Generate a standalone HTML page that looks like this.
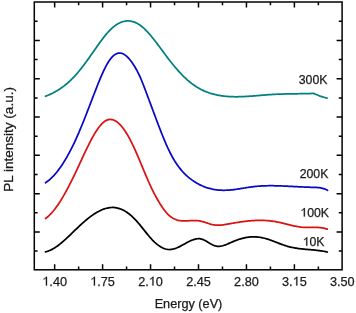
<!DOCTYPE html>
<html><head><meta charset="utf-8"><style>
html,body{margin:0;padding:0;background:#fff;}
svg{display:block;will-change:transform;filter:blur(0.3px);}
.s{font-size:12.3px !important;}
.t{font-family:"Liberation Sans",sans-serif;font-size:12.7px;fill:#1a1a1a;stroke:#1a1a1a;stroke-width:0.25px;}
</style></head><body>
<svg width="356" height="313" viewBox="0 0 356 313" xmlns="http://www.w3.org/2000/svg">
<defs><path id="one" d="M583,0 L763,0 L763,1409 L646,1409 Q570,1310 440,1215 Q330,1140 223,1098 L223,930 Q330,975 420,1030 Q520,1090 583,1150 Z"/></defs>
<rect x="34.3" y="2.0" width="307.8" height="267.8" fill="none" stroke="#000" stroke-width="1.5"/>
<path d="M54.65,269.8V264.30M54.65,2.0V7.50M78.62,269.8V266.50M78.62,2.0V5.30M102.60,269.8V264.30M102.60,2.0V7.50M126.57,269.8V266.50M126.57,2.0V5.30M150.55,269.8V264.30M150.55,2.0V7.50M174.53,269.8V266.50M174.53,2.0V5.30M198.50,269.8V264.30M198.50,2.0V7.50M222.48,269.8V266.50M222.48,2.0V5.30M246.45,269.8V264.30M246.45,2.0V7.50M270.42,269.8V266.50M270.42,2.0V5.30M294.40,269.8V264.30M294.40,2.0V7.50M318.37,269.8V266.50M318.37,2.0V5.30M34.3,21.30H37.60M342.1,21.30H338.80M34.3,40.45H39.80M342.1,40.45H336.60M34.3,59.60H37.60M342.1,59.60H338.80M34.3,78.75H39.80M342.1,78.75H336.60M34.3,97.90H37.60M342.1,97.90H338.80M34.3,117.05H39.80M342.1,117.05H336.60M34.3,136.20H37.60M342.1,136.20H338.80M34.3,155.35H39.80M342.1,155.35H336.60M34.3,174.50H37.60M342.1,174.50H338.80M34.3,193.65H39.80M342.1,193.65H336.60M34.3,212.80H37.60M342.1,212.80H338.80M34.3,231.95H39.80M342.1,231.95H336.60M34.3,251.10H37.60M342.1,251.10H338.80" fill="none" stroke="#000" stroke-width="1.5"/>
<path d="M45.50,96.28 L46.50,95.88 L47.50,95.47 L48.50,95.05 L49.50,94.61 L50.50,94.15 L51.50,93.67 L52.50,93.18 L53.50,92.66 L54.50,92.13 L55.50,91.58 L56.50,91.00 L57.50,90.41 L58.50,89.79 L59.50,89.15 L60.50,88.49 L61.50,87.80 L62.50,87.09 L63.50,86.35 L64.50,85.58 L65.50,84.79 L66.50,83.97 L67.50,83.13 L68.50,82.25 L69.50,81.35 L70.50,80.41 L71.50,79.45 L72.50,78.45 L73.50,77.42 L74.50,76.36 L75.50,75.27 L76.50,74.14 L77.50,72.98 L78.50,71.79 L79.50,70.57 L80.50,69.33 L81.50,68.06 L82.50,66.77 L83.50,65.45 L84.50,64.12 L85.50,62.76 L86.50,61.40 L87.50,60.01 L88.50,58.62 L89.50,57.21 L90.50,55.80 L91.50,54.37 L92.50,52.95 L93.50,51.51 L94.50,50.08 L95.50,48.65 L96.50,47.22 L97.50,45.80 L98.50,44.39 L99.50,42.99 L100.50,41.61 L101.50,40.26 L102.50,38.92 L103.50,37.62 L104.50,36.35 L105.50,35.11 L106.50,33.91 L107.50,32.75 L108.50,31.64 L109.50,30.58 L110.50,29.57 L111.50,28.61 L112.50,27.71 L113.50,26.87 L114.50,26.08 L115.50,25.34 L116.50,24.67 L117.50,24.04 L118.50,23.48 L119.50,22.97 L120.50,22.52 L121.50,22.12 L122.50,21.78 L123.50,21.50 L124.50,21.27 L125.50,21.10 L126.50,20.99 L127.50,20.94 L128.50,20.94 L129.50,21.00 L130.50,21.12 L131.50,21.30 L132.50,21.53 L133.50,21.83 L134.50,22.18 L135.50,22.59 L136.50,23.06 L137.50,23.58 L138.50,24.17 L139.50,24.81 L140.50,25.52 L141.50,26.28 L142.50,27.10 L143.50,27.96 L144.50,28.88 L145.50,29.85 L146.50,30.86 L147.50,31.91 L148.50,33.00 L149.50,34.12 L150.50,35.28 L151.50,36.47 L152.50,37.69 L153.50,38.94 L154.50,40.20 L155.50,41.49 L156.50,42.80 L157.50,44.12 L158.50,45.46 L159.50,46.80 L160.50,48.15 L161.50,49.51 L162.50,50.87 L163.50,52.23 L164.50,53.59 L165.50,54.94 L166.50,56.28 L167.50,57.61 L168.50,58.93 L169.50,60.23 L170.50,61.51 L171.50,62.77 L172.50,64.02 L173.50,65.24 L174.50,66.45 L175.50,67.63 L176.50,68.79 L177.50,69.93 L178.50,71.05 L179.50,72.15 L180.50,73.22 L181.50,74.27 L182.50,75.29 L183.50,76.29 L184.50,77.27 L185.50,78.22 L186.50,79.14 L187.50,80.04 L188.50,80.90 L189.50,81.74 L190.50,82.56 L191.50,83.34 L192.50,84.10 L193.50,84.82 L194.50,85.52 L195.50,86.19 L196.50,86.84 L197.50,87.45 L198.50,88.04 L199.50,88.61 L200.50,89.15 L201.50,89.67 L202.50,90.16 L203.50,90.63 L204.50,91.08 L205.50,91.50 L206.50,91.91 L207.50,92.29 L208.50,92.65 L209.50,92.99 L210.50,93.32 L211.50,93.62 L212.50,93.91 L213.50,94.18 L214.50,94.43 L215.50,94.67 L216.50,94.89 L217.50,95.10 L218.50,95.29 L219.50,95.47 L220.50,95.63 L221.50,95.78 L222.50,95.92 L223.50,96.05 L224.50,96.16 L225.50,96.27 L226.50,96.36 L227.50,96.44 L228.50,96.52 L229.50,96.58 L230.50,96.63 L231.50,96.67 L232.50,96.71 L233.50,96.73 L234.50,96.75 L235.50,96.76 L236.50,96.76 L237.50,96.76 L238.50,96.74 L239.50,96.73 L240.50,96.70 L241.50,96.67 L242.50,96.63 L243.50,96.59 L244.50,96.54 L245.50,96.49 L246.50,96.43 L247.50,96.37 L248.50,96.30 L249.50,96.23 L250.50,96.16 L251.50,96.09 L252.50,96.01 L253.50,95.93 L254.50,95.85 L255.50,95.77 L256.50,95.68 L257.50,95.60 L258.50,95.51 L259.50,95.43 L260.50,95.34 L261.50,95.26 L262.50,95.18 L263.50,95.09 L264.50,95.01 L265.50,94.93 L266.50,94.85 L267.50,94.78 L268.50,94.71 L269.50,94.64 L270.50,94.57 L271.50,94.51 L272.50,94.45 L273.50,94.39 L274.50,94.34 L275.50,94.29 L276.50,94.25 L277.50,94.21 L278.50,94.17 L279.50,94.13 L280.50,94.10 L281.50,94.06 L282.50,94.03 L283.50,94.01 L284.50,93.98 L285.50,93.96 L286.50,93.94 L287.50,93.92 L288.50,93.90 L289.50,93.88 L290.50,93.86 L291.50,93.85 L292.50,93.83 L293.50,93.82 L294.50,93.80 L295.50,93.79 L296.50,93.77 L297.50,93.76 L298.50,93.75 L299.50,93.73 L300.50,93.72 L301.50,93.70 L302.50,93.69 L303.50,93.67 L304.50,93.65 L305.50,93.63 L306.50,93.61 L307.50,93.59 L308.50,93.56 L309.50,93.54 L310.50,93.51 L311.50,93.48 L312.50,93.45 L313.50,93.41 L315.7,94.3 L318,95.3 L320.2,96.2 L322.5,96.9 L324.7,97.5 L327,98.2" fill="none" stroke="#008080" stroke-width="1.75" stroke-linejoin="round" stroke-linecap="round"/>
<path d="M45.50,182.72 L46.50,182.05 L47.50,181.32 L48.50,180.55 L49.50,179.72 L50.50,178.84 L51.50,177.90 L52.50,176.92 L53.50,175.88 L54.50,174.79 L55.50,173.64 L56.50,172.45 L57.50,171.20 L58.50,169.91 L59.50,168.56 L60.50,167.16 L61.50,165.71 L62.50,164.20 L63.50,162.65 L64.50,161.05 L65.50,159.39 L66.50,157.69 L67.50,155.94 L68.50,154.13 L69.50,152.28 L70.50,150.37 L71.50,148.42 L72.50,146.42 L73.50,144.37 L74.50,142.26 L75.50,140.11 L76.50,137.91 L77.50,135.67 L78.50,133.37 L79.50,131.03 L80.50,128.65 L81.50,126.23 L82.50,123.78 L83.50,121.30 L84.50,118.78 L85.50,116.25 L86.50,113.70 L87.50,111.12 L88.50,108.54 L89.50,105.95 L90.50,103.35 L91.50,100.75 L92.50,98.14 L93.50,95.55 L94.50,92.96 L95.50,90.38 L96.50,87.82 L97.50,85.29 L98.50,82.79 L99.50,80.34 L100.50,77.94 L101.50,75.61 L102.50,73.34 L103.50,71.16 L104.50,69.07 L105.50,67.08 L106.50,65.19 L107.50,63.43 L108.50,61.79 L109.50,60.29 L110.50,58.92 L111.50,57.70 L112.50,56.62 L113.50,55.68 L114.50,54.88 L115.50,54.22 L116.50,53.70 L117.50,53.32 L118.50,53.09 L119.50,53.00 L120.50,53.05 L121.50,53.25 L122.50,53.58 L123.50,54.04 L124.50,54.63 L125.50,55.34 L126.50,56.17 L127.50,57.11 L128.50,58.15 L129.50,59.29 L130.50,60.52 L131.50,61.84 L132.50,63.25 L133.50,64.73 L134.50,66.30 L135.50,67.95 L136.50,69.70 L137.50,71.56 L138.50,73.54 L139.50,75.65 L140.50,77.90 L141.50,80.26 L142.50,82.73 L143.50,85.27 L144.50,87.88 L145.50,90.53 L146.50,93.20 L147.50,95.88 L148.50,98.56 L149.50,101.24 L150.50,103.92 L151.50,106.60 L152.50,109.28 L153.50,111.96 L154.50,114.63 L155.50,117.30 L156.50,119.96 L157.50,122.61 L158.50,125.24 L159.50,127.85 L160.50,130.43 L161.50,132.98 L162.50,135.49 L163.50,137.96 L164.50,140.37 L165.50,142.73 L166.50,145.03 L167.50,147.26 L168.50,149.41 L169.50,151.49 L170.50,153.49 L171.50,155.40 L172.50,157.22 L173.50,158.97 L174.50,160.64 L175.50,162.23 L176.50,163.75 L177.50,165.20 L178.50,166.59 L179.50,167.91 L180.50,169.16 L181.50,170.36 L182.50,171.50 L183.50,172.59 L184.50,173.63 L185.50,174.61 L186.50,175.55 L187.50,176.45 L188.50,177.31 L189.50,178.13 L190.50,178.91 L191.50,179.66 L192.50,180.38 L193.50,181.06 L194.50,181.72 L195.50,182.36 L196.50,182.96 L197.50,183.54 L198.50,184.08 L199.50,184.61 L200.50,185.10 L201.50,185.57 L202.50,186.02 L203.50,186.44 L204.50,186.83 L205.50,187.20 L206.50,187.55 L207.50,187.87 L208.50,188.18 L209.50,188.45 L210.50,188.71 L211.50,188.95 L212.50,189.16 L213.50,189.36 L214.50,189.53 L215.50,189.69 L216.50,189.82 L217.50,189.94 L218.50,190.04 L219.50,190.12 L220.50,190.18 L221.50,190.23 L222.50,190.26 L223.50,190.27 L224.50,190.27 L225.50,190.25 L226.50,190.22 L227.50,190.18 L228.50,190.12 L229.50,190.04 L230.50,189.96 L231.50,189.86 L232.50,189.76 L233.50,189.64 L234.50,189.52 L235.50,189.39 L236.50,189.25 L237.50,189.10 L238.50,188.95 L239.50,188.80 L240.50,188.64 L241.50,188.48 L242.50,188.32 L243.50,188.16 L244.50,187.99 L245.50,187.83 L246.50,187.67 L247.50,187.51 L248.50,187.36 L249.50,187.21 L250.50,187.06 L251.50,186.92 L252.50,186.79 L253.50,186.67 L254.50,186.55 L255.50,186.44 L256.50,186.34 L257.50,186.25 L258.50,186.17 L259.50,186.10 L260.50,186.03 L261.50,185.97 L262.50,185.92 L263.50,185.87 L264.50,185.83 L265.50,185.80 L266.50,185.77 L267.50,185.75 L268.50,185.74 L269.50,185.73 L270.50,185.73 L271.50,185.73 L272.50,185.73 L273.50,185.74 L274.50,185.76 L275.50,185.78 L276.50,185.80 L277.50,185.82 L278.50,185.85 L279.50,185.88 L280.50,185.92 L281.50,185.96 L282.50,186.00 L283.50,186.04 L284.50,186.08 L285.50,186.13 L286.50,186.17 L287.50,186.22 L288.50,186.27 L289.50,186.32 L290.50,186.37 L291.50,186.42 L292.50,186.47 L293.50,186.52 L294.50,186.57 L295.50,186.62 L296.50,186.67 L297.50,186.72 L298.50,186.77 L299.50,186.81 L300.50,186.86 L301.50,186.91 L302.50,186.95 L303.50,187.00 L304.50,187.04 L305.50,187.08 L306.50,187.13 L307.50,187.16 L308.50,187.20 L309.50,187.24 L310.50,187.27 L311.50,187.30 L312.50,187.33 L313.50,187.36 L314.50,187.38 L315.50,187.42 L316.50,187.46 L317.50,187.52 L318.50,187.61 L319.50,187.72 L320.50,187.87 L321.50,188.06 L322.50,188.29 L323.50,188.57 L324.50,188.91 L325.50,189.31 L326.50,189.78 L327.50,190.32 L327.60,190.38" fill="none" stroke="#0808c8" stroke-width="1.75" stroke-linejoin="round" stroke-linecap="round"/>
<path d="M45.50,218.53 L46.50,217.79 L47.50,216.99 L48.50,216.11 L49.50,215.17 L50.50,214.17 L51.50,213.10 L52.50,211.96 L53.50,210.77 L54.50,209.52 L55.50,208.21 L56.50,206.85 L57.50,205.43 L58.50,203.96 L59.50,202.44 L60.50,200.87 L61.50,199.26 L62.50,197.60 L63.50,195.90 L64.50,194.15 L65.50,192.37 L66.50,190.54 L67.50,188.68 L68.50,186.79 L69.50,184.86 L70.50,182.90 L71.50,180.91 L72.50,178.89 L73.50,176.85 L74.50,174.78 L75.50,172.69 L76.50,170.58 L77.50,168.44 L78.50,166.29 L79.50,164.13 L80.50,161.97 L81.50,159.80 L82.50,157.64 L83.50,155.49 L84.50,153.35 L85.50,151.23 L86.50,149.14 L87.50,147.08 L88.50,145.05 L89.50,143.06 L90.50,141.12 L91.50,139.23 L92.50,137.39 L93.50,135.61 L94.50,133.90 L95.50,132.26 L96.50,130.69 L97.50,129.21 L98.50,127.81 L99.50,126.50 L100.50,125.29 L101.50,124.18 L102.50,123.17 L103.50,122.28 L104.50,121.50 L105.50,120.85 L106.50,120.32 L107.50,119.91 L108.50,119.63 L109.50,119.48 L110.50,119.44 L111.50,119.51 L112.50,119.70 L113.50,120.01 L114.50,120.43 L115.50,120.95 L116.50,121.58 L117.50,122.31 L118.50,123.15 L119.50,124.08 L120.50,125.12 L121.50,126.25 L122.50,127.47 L123.50,128.78 L124.50,130.18 L125.50,131.67 L126.50,133.24 L127.50,134.89 L128.50,136.63 L129.50,138.44 L130.50,140.33 L131.50,142.29 L132.50,144.32 L133.50,146.42 L134.50,148.59 L135.50,150.81 L136.50,153.09 L137.50,155.41 L138.50,157.76 L139.50,160.14 L140.50,162.53 L141.50,164.94 L142.50,167.36 L143.50,169.77 L144.50,172.17 L145.50,174.55 L146.50,176.91 L147.50,179.23 L148.50,181.52 L149.50,183.75 L150.50,185.93 L151.50,188.04 L152.50,190.10 L153.50,192.09 L154.50,194.03 L155.50,195.91 L156.50,197.73 L157.50,199.50 L158.50,201.21 L159.50,202.87 L160.50,204.48 L161.50,206.03 L162.50,207.53 L163.50,208.95 L164.50,210.31 L165.50,211.58 L166.50,212.77 L167.50,213.86 L168.50,214.86 L169.50,215.76 L170.50,216.57 L171.50,217.30 L172.50,217.94 L173.50,218.51 L174.50,219.00 L175.50,219.43 L176.50,219.79 L177.50,220.09 L178.50,220.33 L179.50,220.53 L180.50,220.68 L181.50,220.79 L182.50,220.86 L183.50,220.90 L184.50,220.92 L185.50,220.91 L186.50,220.88 L187.50,220.84 L188.50,220.79 L189.50,220.73 L190.50,220.67 L191.50,220.62 L192.50,220.58 L193.50,220.55 L194.50,220.53 L195.50,220.54 L196.50,220.58 L197.50,220.65 L198.50,220.75 L199.50,220.90 L200.50,221.09 L201.50,221.32 L202.50,221.58 L203.50,221.87 L204.50,222.17 L205.50,222.50 L206.50,222.83 L207.50,223.16 L208.50,223.48 L209.50,223.79 L210.50,224.09 L211.50,224.36 L212.50,224.59 L213.50,224.79 L214.50,224.95 L215.50,225.06 L216.50,225.14 L217.50,225.17 L218.50,225.18 L219.50,225.15 L220.50,225.09 L221.50,225.01 L222.50,224.91 L223.50,224.78 L224.50,224.64 L225.50,224.49 L226.50,224.32 L227.50,224.15 L228.50,223.97 L229.50,223.79 L230.50,223.61 L231.50,223.43 L232.50,223.26 L233.50,223.08 L234.50,222.91 L235.50,222.75 L236.50,222.58 L237.50,222.42 L238.50,222.27 L239.50,222.12 L240.50,221.97 L241.50,221.83 L242.50,221.69 L243.50,221.56 L244.50,221.43 L245.50,221.31 L246.50,221.20 L247.50,221.09 L248.50,220.99 L249.50,220.89 L250.50,220.80 L251.50,220.72 L252.50,220.65 L253.50,220.58 L254.50,220.53 L255.50,220.48 L256.50,220.44 L257.50,220.40 L258.50,220.38 L259.50,220.37 L260.50,220.37 L261.50,220.37 L262.50,220.39 L263.50,220.42 L264.50,220.45 L265.50,220.50 L266.50,220.56 L267.50,220.64 L268.50,220.72 L269.50,220.81 L270.50,220.92 L271.50,221.04 L272.50,221.17 L273.50,221.32 L274.50,221.48 L275.50,221.65 L276.50,221.84 L277.50,222.03 L278.50,222.24 L279.50,222.46 L280.50,222.68 L281.50,222.92 L282.50,223.15 L283.50,223.40 L284.50,223.64 L285.50,223.89 L286.50,224.14 L287.50,224.39 L288.50,224.64 L289.50,224.88 L290.50,225.12 L291.50,225.36 L292.50,225.58 L293.50,225.81 L294.50,226.02 L295.50,226.22 L296.50,226.41 L297.50,226.59 L298.50,226.75 L299.50,226.90 L300.50,227.04 L301.50,227.16 L302.50,227.25 L303.50,227.33 L304.50,227.39 L305.50,227.43 L306.50,227.45 L307.50,227.46 L308.50,227.46 L309.50,227.45 L310.50,227.43 L311.50,227.42 L312.50,227.40 L313.50,227.39 L314.50,227.39 L315.50,227.39 L316.50,227.41 L317.50,227.44 L318.50,227.49 L319.50,227.56 L320.50,227.66 L321.50,227.78 L322.50,227.93 L323.50,228.11 L324.50,228.33 L325.50,228.59 L326.50,228.88 L327.30,229.15" fill="none" stroke="#da1212" stroke-width="1.75" stroke-linejoin="round" stroke-linecap="round"/>
<path d="M45.50,251.81 L46.50,251.57 L47.50,251.28 L48.50,250.94 L49.50,250.55 L50.50,250.12 L51.50,249.64 L52.50,249.11 L53.50,248.55 L54.50,247.94 L55.50,247.30 L56.50,246.63 L57.50,245.92 L58.50,245.18 L59.50,244.41 L60.50,243.61 L61.50,242.79 L62.50,241.95 L63.50,241.08 L64.50,240.20 L65.50,239.29 L66.50,238.38 L67.50,237.44 L68.50,236.50 L69.50,235.55 L70.50,234.59 L71.50,233.62 L72.50,232.65 L73.50,231.68 L74.50,230.71 L75.50,229.74 L76.50,228.77 L77.50,227.82 L78.50,226.86 L79.50,225.92 L80.50,224.99 L81.50,224.08 L82.50,223.17 L83.50,222.29 L84.50,221.41 L85.50,220.56 L86.50,219.72 L87.50,218.90 L88.50,218.10 L89.50,217.32 L90.50,216.57 L91.50,215.83 L92.50,215.12 L93.50,214.44 L94.50,213.78 L95.50,213.15 L96.50,212.54 L97.50,211.97 L98.50,211.42 L99.50,210.91 L100.50,210.42 L101.50,209.97 L102.50,209.56 L103.50,209.17 L104.50,208.83 L105.50,208.52 L106.50,208.25 L107.50,208.02 L108.50,207.82 L109.50,207.67 L110.50,207.56 L111.50,207.50 L112.50,207.47 L113.50,207.49 L114.50,207.56 L115.50,207.68 L116.50,207.84 L117.50,208.05 L118.50,208.31 L119.50,208.61 L120.50,208.96 L121.50,209.36 L122.50,209.81 L123.50,210.30 L124.50,210.84 L125.50,211.43 L126.50,212.07 L127.50,212.75 L128.50,213.47 L129.50,214.25 L130.50,215.06 L131.50,215.93 L132.50,216.84 L133.50,217.80 L134.50,218.80 L135.50,219.85 L136.50,220.94 L137.50,222.07 L138.50,223.23 L139.50,224.43 L140.50,225.64 L141.50,226.88 L142.50,228.13 L143.50,229.38 L144.50,230.63 L145.50,231.88 L146.50,233.12 L147.50,234.35 L148.50,235.55 L149.50,236.72 L150.50,237.87 L151.50,238.97 L152.50,240.04 L153.50,241.05 L154.50,242.02 L155.50,242.94 L156.50,243.81 L157.50,244.63 L158.50,245.39 L159.50,246.09 L160.50,246.73 L161.50,247.32 L162.50,247.84 L163.50,248.29 L164.50,248.67 L165.50,248.99 L166.50,249.24 L167.50,249.41 L168.50,249.50 L169.50,249.53 L170.50,249.48 L171.50,249.36 L172.50,249.19 L173.50,248.96 L174.50,248.68 L175.50,248.35 L176.50,247.97 L177.50,247.56 L178.50,247.11 L179.50,246.63 L180.50,246.13 L181.50,245.60 L182.50,245.06 L183.50,244.51 L184.50,243.95 L185.50,243.39 L186.50,242.84 L187.50,242.30 L188.50,241.78 L189.50,241.28 L190.50,240.80 L191.50,240.36 L192.50,239.96 L193.50,239.61 L194.50,239.30 L195.50,239.05 L196.50,238.87 L197.50,238.75 L198.50,238.70 L199.50,238.73 L200.50,238.84 L201.50,239.05 L202.50,239.34 L203.50,239.73 L204.50,240.20 L205.50,240.73 L206.50,241.30 L207.50,241.90 L208.50,242.52 L209.50,243.14 L210.50,243.74 L211.50,244.31 L212.50,244.84 L213.50,245.30 L214.50,245.69 L215.50,245.98 L216.50,246.18 L217.50,246.29 L218.50,246.33 L219.50,246.29 L220.50,246.18 L221.50,246.01 L222.50,245.78 L223.50,245.51 L224.50,245.19 L225.50,244.84 L226.50,244.45 L227.50,244.04 L228.50,243.61 L229.50,243.17 L230.50,242.73 L231.50,242.28 L232.50,241.84 L233.50,241.42 L234.50,241.01 L235.50,240.61 L236.50,240.23 L237.50,239.86 L238.50,239.51 L239.50,239.18 L240.50,238.87 L241.50,238.58 L242.50,238.31 L243.50,238.05 L244.50,237.82 L245.50,237.62 L246.50,237.44 L247.50,237.28 L248.50,237.14 L249.50,237.03 L250.50,236.95 L251.50,236.88 L252.50,236.85 L253.50,236.83 L254.50,236.84 L255.50,236.88 L256.50,236.93 L257.50,237.01 L258.50,237.12 L259.50,237.25 L260.50,237.40 L261.50,237.57 L262.50,237.77 L263.50,237.99 L264.50,238.24 L265.50,238.50 L266.50,238.79 L267.50,239.10 L268.50,239.42 L269.50,239.76 L270.50,240.11 L271.50,240.47 L272.50,240.84 L273.50,241.22 L274.50,241.61 L275.50,242.00 L276.50,242.39 L277.50,242.78 L278.50,243.17 L279.50,243.56 L280.50,243.94 L281.50,244.31 L282.50,244.68 L283.50,245.03 L284.50,245.37 L285.50,245.70 L286.50,246.01 L287.50,246.30 L288.50,246.58 L289.50,246.84 L290.50,247.08 L291.50,247.30 L292.50,247.51 L293.50,247.71 L294.50,247.89 L295.50,248.06 L296.50,248.22 L297.50,248.37 L298.50,248.51 L299.50,248.64 L300.50,248.76 L301.50,248.87 L302.50,248.98 L303.50,249.08 L304.50,249.18 L305.50,249.27 L306.50,249.36 L307.50,249.45 L308.50,249.54 L309.50,249.62 L310.50,249.71 L311.50,249.80 L312.50,249.89 L313.50,249.98 L314.50,250.07 L315.50,250.17 L316.50,250.28 L317.50,250.39 L318.50,250.51 L319.50,250.64 L320.50,250.77 L321.50,250.92 L322.50,251.07 L323.50,251.24 L324.50,251.42 L325.50,251.61 L326.50,251.81 L327.30,251.99" fill="none" stroke="#000000" stroke-width="1.75" stroke-linejoin="round" stroke-linecap="round"/>
<text x="54.65" y="285.5" text-anchor="middle" class="t">&#x2007;.40</text>
<text x="102.60" y="285.5" text-anchor="middle" class="t">&#x2007;.75</text>
<text x="150.55" y="285.5" text-anchor="middle" class="t">2.&#x2007;0</text>
<text x="198.50" y="285.5" text-anchor="middle" class="t">2.45</text>
<text x="246.45" y="285.5" text-anchor="middle" class="t">2.80</text>
<text x="294.40" y="285.5" text-anchor="middle" class="t">3.&#x2007;5</text>
<text x="342.35" y="285.5" text-anchor="middle" class="t">3.50</text>
<text x="188.5" y="307.8" text-anchor="middle" class="t">Energy (eV)</text>
<text transform="translate(12.6,139.4) rotate(-90)" text-anchor="middle" class="t" textLength="104.6" lengthAdjust="spacingAndGlyphs">PL intensity (a.u.)</text>
<text x="298.75" y="84.25" class="t s">300K</text>
<text x="299.7" y="178" class="t s">200K</text>
<text x="300.3" y="216.5" class="t s">&#x2007;00K</text>
<text x="302.7" y="245.75" class="t s">&#x2007;0K</text>
<use href="#one" transform="translate(42.298,285.500) scale(0.006201,-0.006201)" fill="#1a1a1a" stroke="#1a1a1a" stroke-width="40.3"/>
<use href="#one" transform="translate(90.248,285.500) scale(0.006201,-0.006201)" fill="#1a1a1a" stroke="#1a1a1a" stroke-width="40.3"/>
<use href="#one" transform="translate(148.777,285.500) scale(0.006201,-0.006201)" fill="#1a1a1a" stroke="#1a1a1a" stroke-width="40.3"/>
<use href="#one" transform="translate(292.627,285.500) scale(0.006201,-0.006201)" fill="#1a1a1a" stroke="#1a1a1a" stroke-width="40.3"/>
<use href="#one" transform="translate(300.300,216.500) scale(0.006006,-0.006006)" fill="#1a1a1a" stroke="#1a1a1a" stroke-width="41.6"/>
<use href="#one" transform="translate(302.700,245.750) scale(0.006006,-0.006006)" fill="#1a1a1a" stroke="#1a1a1a" stroke-width="41.6"/>

</svg>
</body></html>
